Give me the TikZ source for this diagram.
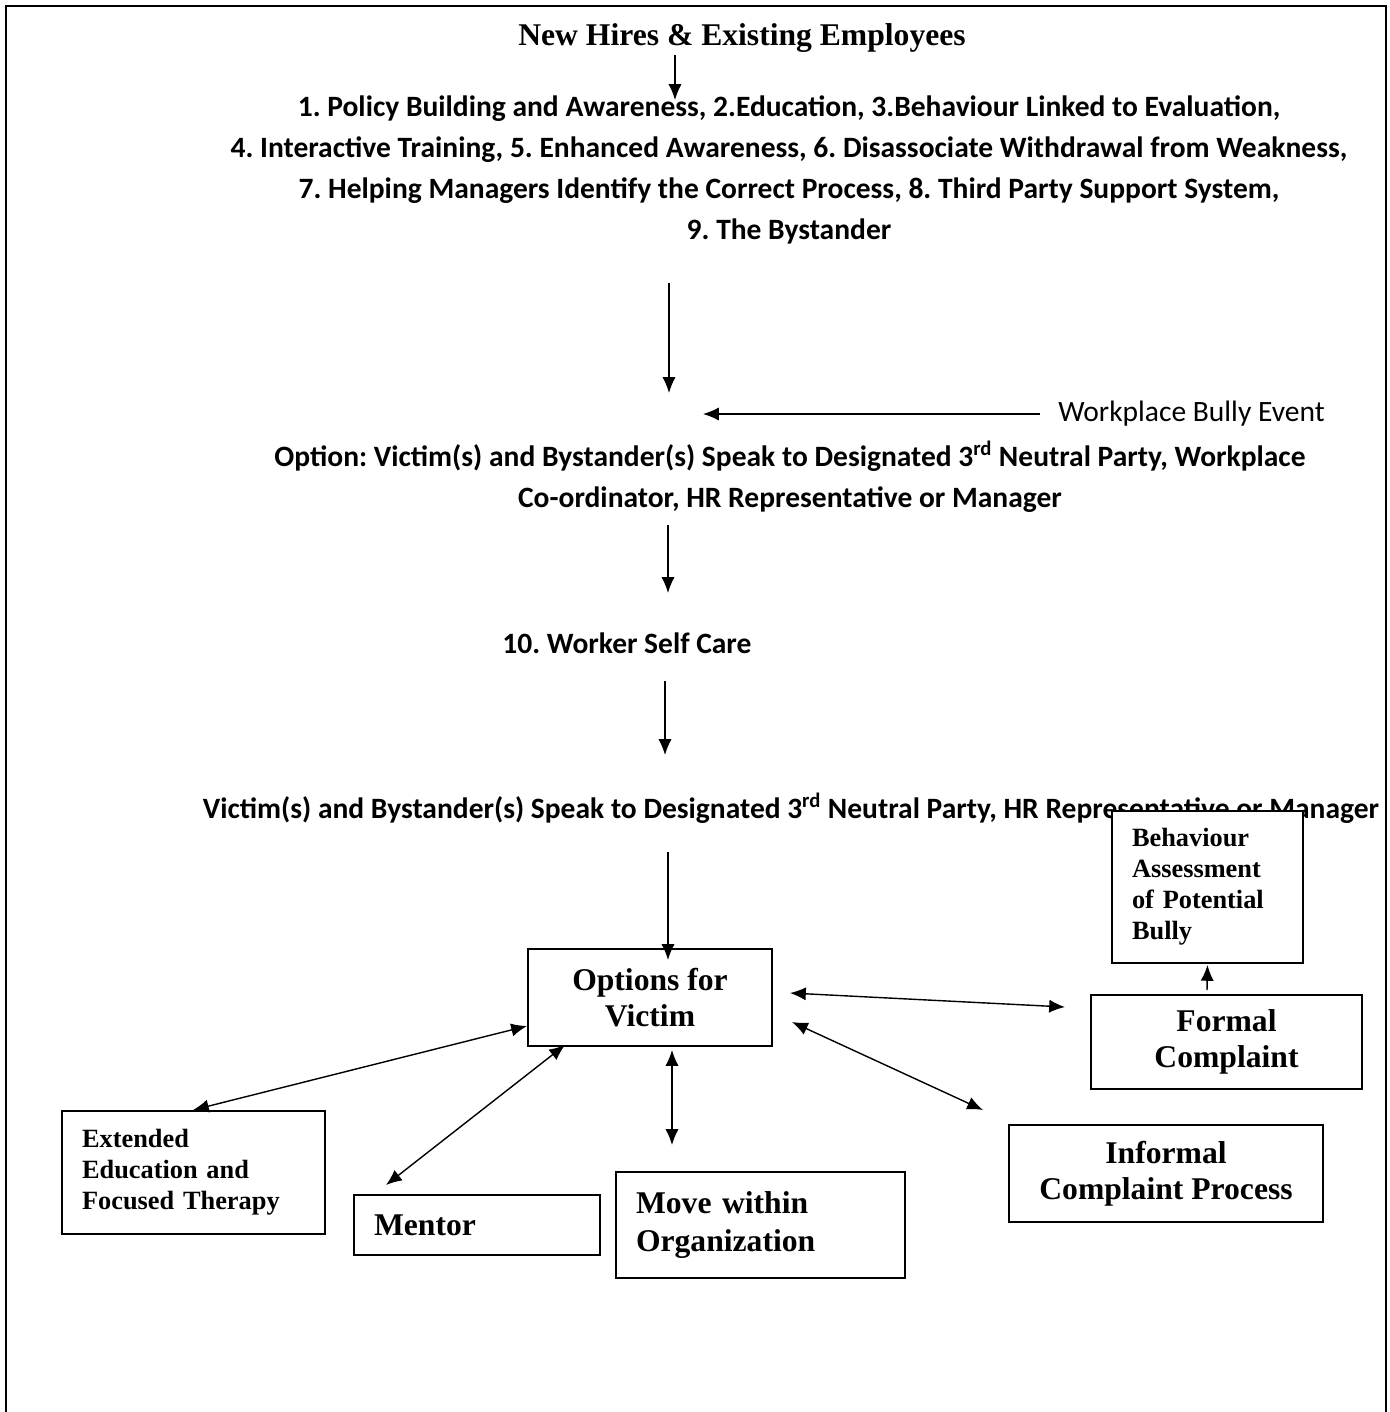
\documentclass[tikz,border=0pt]{standalone}
\usepackage{fontspec}
\setmainfont{Liberation Serif}
\newfontfamily\carlito{Carlito}
\usetikzlibrary{arrows.meta}
\usetikzlibrary{calc}
\frenchspacing
\tikzset{>={Latex[length=9pt,width=7.5pt]}}
\tikzset{flow/.style = {->, line width=0.8pt}}
\tikzset{both/.style = {<->, line width=0.8pt}}
\tikzset{lbl/.style = {font=\carlito\bfseries\fontsize{16.8}{23.3}\selectfont, align=center, inner sep=0}}
\tikzset{box/.style = {draw, line width=1.1pt, fill=white, inner sep=0, align=center,
                       font=\bfseries\fontsize{18}{20.8}\selectfont}}
\tikzset{lbox/.style = {box, align=left, inner xsep=0.4cm}}
\tikzset{smallfont/.style = {font=\bfseries\fontsize{15}{17.6}\selectfont}}

\begin{document}
\begin{tikzpicture}[x=0.02cm, y=-0.02cm]
      \useasboundingbox (0, 0) rectangle (1389, 1412);
      \draw [line width=1.4pt] (6, 1412) -- (6, 6) -- (1386, 6) -- (1386, 1412);

      \node [inner sep=0, font=\bfseries\fontsize{18}{21}\selectfont] (hires) at (742, 38) {New Hires \& Existing Employees};
      \node [lbl] (steps) at (789, 170) {1. Policy Building and Awareness, 2.Education, 3.Behaviour Linked to Evaluation,\\
        4. Interactive Training, 5. Enhanced Awareness, 6. Disassociate Withdrawal from Weakness,\\
        7. Helping Managers Identify the Correct Process, 8. Third Party Support System,\\
        9. The Bystander};
      \node [inner sep=0, anchor=west, font=\carlito\fontsize{16.8}{19}\selectfont] (bully) at (1058, 414) {Workplace Bully Event};
      \coordinate (hit) at (703, 414);
      \node [lbl] (option) at (790, 477) {Option: Victim(s) and Bystander(s) Speak to Designated 3\textsuperscript{rd} Neutral Party, Workplace\\
        Co-ordinator, HR Representative or Manager};
      \node [lbl] (care) at (627, 643) {10. Worker Self Care};
      \node [lbl] (speak) at (791, 808) {Victim(s) and Bystander(s) Speak to Designated 3\textsuperscript{rd} Neutral Party, HR Representative or Manager};

      % boxes
      \node [box, minimum width=4.88cm, minimum height=1.94cm] (victim) at (650, 997.5) {Options for\\Victim};
      \node [lbox, smallfont, text width=3.02cm, minimum height=3.04cm] (assess) at (1207.5, 887) {Behaviour\\Assessment\\of Potential\\Bully};
      \node [box, minimum width=5.42cm, minimum height=1.88cm] (formal) at (1226.5, 1042) {Formal\\Complaint};
      \node [lbox, smallfont, text width=4.46cm, minimum height=2.46cm] (therapy) at (193.5, 1172.5) {Extended\\Education and\\Focused Therapy};
      \node [lbox, text width=4.12cm, minimum height=1.2cm] (mentor) at (477, 1225) {Mentor};
      \node [lbox, text width=4.98cm, minimum height=2.12cm, font=\bfseries\fontsize{18}{21.5}\selectfont] (move) at (760.5, 1225) {Move within\\Organization};
      \node [box, minimum width=6.28cm, minimum height=1.94cm] (informal) at (1166, 1173.5) {Informal\\Complaint Process};

      % main flow
      \draw [flow] ($(hires)+(-67, 17)$) -- ($(steps)+(-114, -70)$);
      \draw [flow] ($(steps)+(-120, 113)$) -- ($(option)+(-121, -84)$);
      \draw [flow] ($(bully.west)+(-18, 0)$) -- (hit);
      \draw [flow] ($(option)+(-122, 48)$) -- ($(care)+(41, -50)$);
      \draw [flow] ($(care)+(38, 38)$) -- ($(speak)+(-126, -53)$);
      \draw [flow] ($(speak)+(-123, 44)$) -- ($(victim)+(18, -37.5)$);
      \draw [flow] ($(formal)+(-19.5, -52)$) -- ($(assess.south)+(0, 1)$);

      % options
      \draw [both] ($(victim)+(140, -4.5)$) -- ($(formal)+(-161.5, -35)$);
      \draw [both] ($(victim)+(142, 24.5)$) -- ($(informal)+(-183, -63.5)$);
      \draw [both] ($(victim)+(22, 52.5)$) -- ($(move)+(-88.5, -80)$);
      \draw [both] ($(victim)+(-85, 47.5)$) -- ($(mentor)+(-91, -40)$);
      \draw [both] ($(victim)+(-123, 28.5)$) -- ($(therapy)+(-0.5, -62.5)$);
\end{tikzpicture}
\end{document}
